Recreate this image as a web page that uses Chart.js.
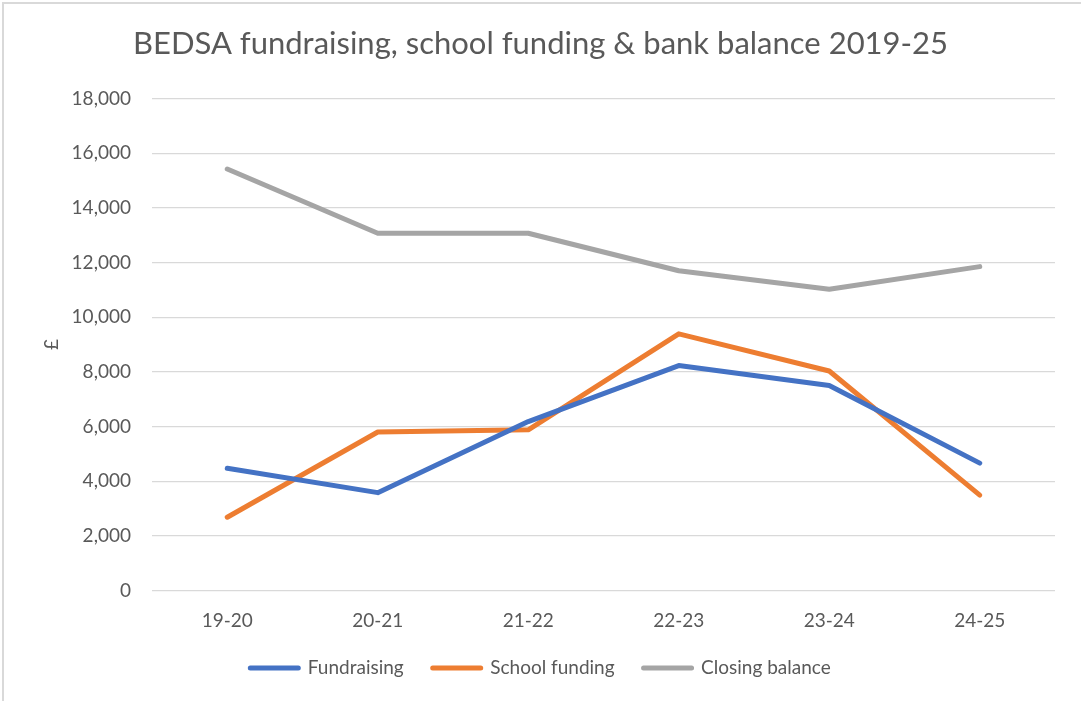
<!DOCTYPE html>
<html>
<head>
<meta charset="utf-8">
<script src="https://cdn.jsdelivr.net/npm/chart.js@4/dist/chart.umd.min.js"></script>
<style>
  html, body { margin: 0; padding: 0; background: #ffffff; }
  #wrap { position: relative; width: 1081px; height: 701px; overflow: hidden; }
  #frame { position: absolute; left: 2px; top: 2px; width: 2000px; height: 2000px;
           border-left: 2px solid #D9D9D9; border-top: 2px solid #D9D9D9; pointer-events: none; }
  canvas { position: absolute; left: 0; top: 0; }
</style>
</head>
<body>
<div id="wrap">
  <canvas id="c" width="1081" height="701"></canvas>
  <div id="frame"></div>
</div>
<script>
const categories = ['19-20', '20-21', '21-22', '22-23', '23-24', '24-25'];
const fundraising = [4470, 3580, 6180, 8230, 7500, 4660];
const schoolFunding = [2680, 5800, 5880, 9390, 8030, 3490];
const closingBalance = [15420, 13070, 13070, 11700, 11020, 11850];
const seriesNames = ['Fundraising', 'School funding', 'Closing balance'];
const seriesColors = ['#4472C4', '#ED7D31', '#A5A5A5'];
const yTickMin = 0, yTickMax = 18000, yTickStep = 2000;

const TEXT = '#595959';
const FONT = 'Lato, "Open Sans", sans-serif';

function ds(label, data, color) {
  return {
    label, data,
    borderColor: color, backgroundColor: color,
    borderWidth: 5, borderCapStyle: 'round', borderJoinStyle: 'round',
    pointRadius: 0, pointHoverRadius: 0, tension: 0, fill: false
  };
}

new Chart(document.getElementById('c'), {
  type: 'line',
  data: {
    labels: categories,
    datasets: [
      ds(seriesNames[0], fundraising, seriesColors[0]),
      ds(seriesNames[1], schoolFunding, seriesColors[1]),
      ds(seriesNames[2], closingBalance, seriesColors[2])
    ]
  },
  options: {
    responsive: false,
    animation: false,
    layout: { padding: { left: 0, right: 0, top: 0, bottom: 13.5 } },
    plugins: {
      title: {
        display: true,
        text: 'BEDSA fundraising, school funding & bank balance 2019-25',
        color: TEXT,
        font: { family: FONT, size: 31, weight: 'normal' },
        padding: { top: 25.4, bottom: 35.9 }
      },
      legend: {
        display: true,
        position: 'bottom',
        labels: {
          color: TEXT,
          font: { family: FONT, size: 19 },
          boxWidth: 48,
          boxHeight: 0,
          padding: 29
        }
      },
      tooltip: { enabled: false }
    },
    scales: {
      x: {
        offset: true,
        grid: { display: false, drawTicks: false },
        border: { display: false },
        ticks: { color: TEXT, font: { family: FONT, size: 19 }, padding: 19, maxRotation: 0 },
        afterFit: s => { s.height = 39; }
      },
      y: {
        position: 'left',
        min: yTickMin, max: yTickMax,
        ticks: {
          stepSize: yTickStep, color: TEXT, font: { family: FONT, size: 19 }, padding: 21,
          callback: v => v.toLocaleString('en-US')
        },
        grid: { color: '#D9D9D9', lineWidth: 1.3, drawTicks: false },
        border: { display: false },
        title: { display: true, text: '£', color: TEXT, font: { family: FONT, size: 19 }, padding: { top: 40, bottom: 0 } },
        afterFit: s => { s.width = 152; }
      },
      yRight: {
        position: 'right',
        min: 0, max: 1,
        grid: { display: false, drawTicks: false },
        border: { display: false },
        ticks: { display: false },
        afterFit: s => { s.width = 26; }
      }
    }
  }
});
</script>
</body>
</html>
